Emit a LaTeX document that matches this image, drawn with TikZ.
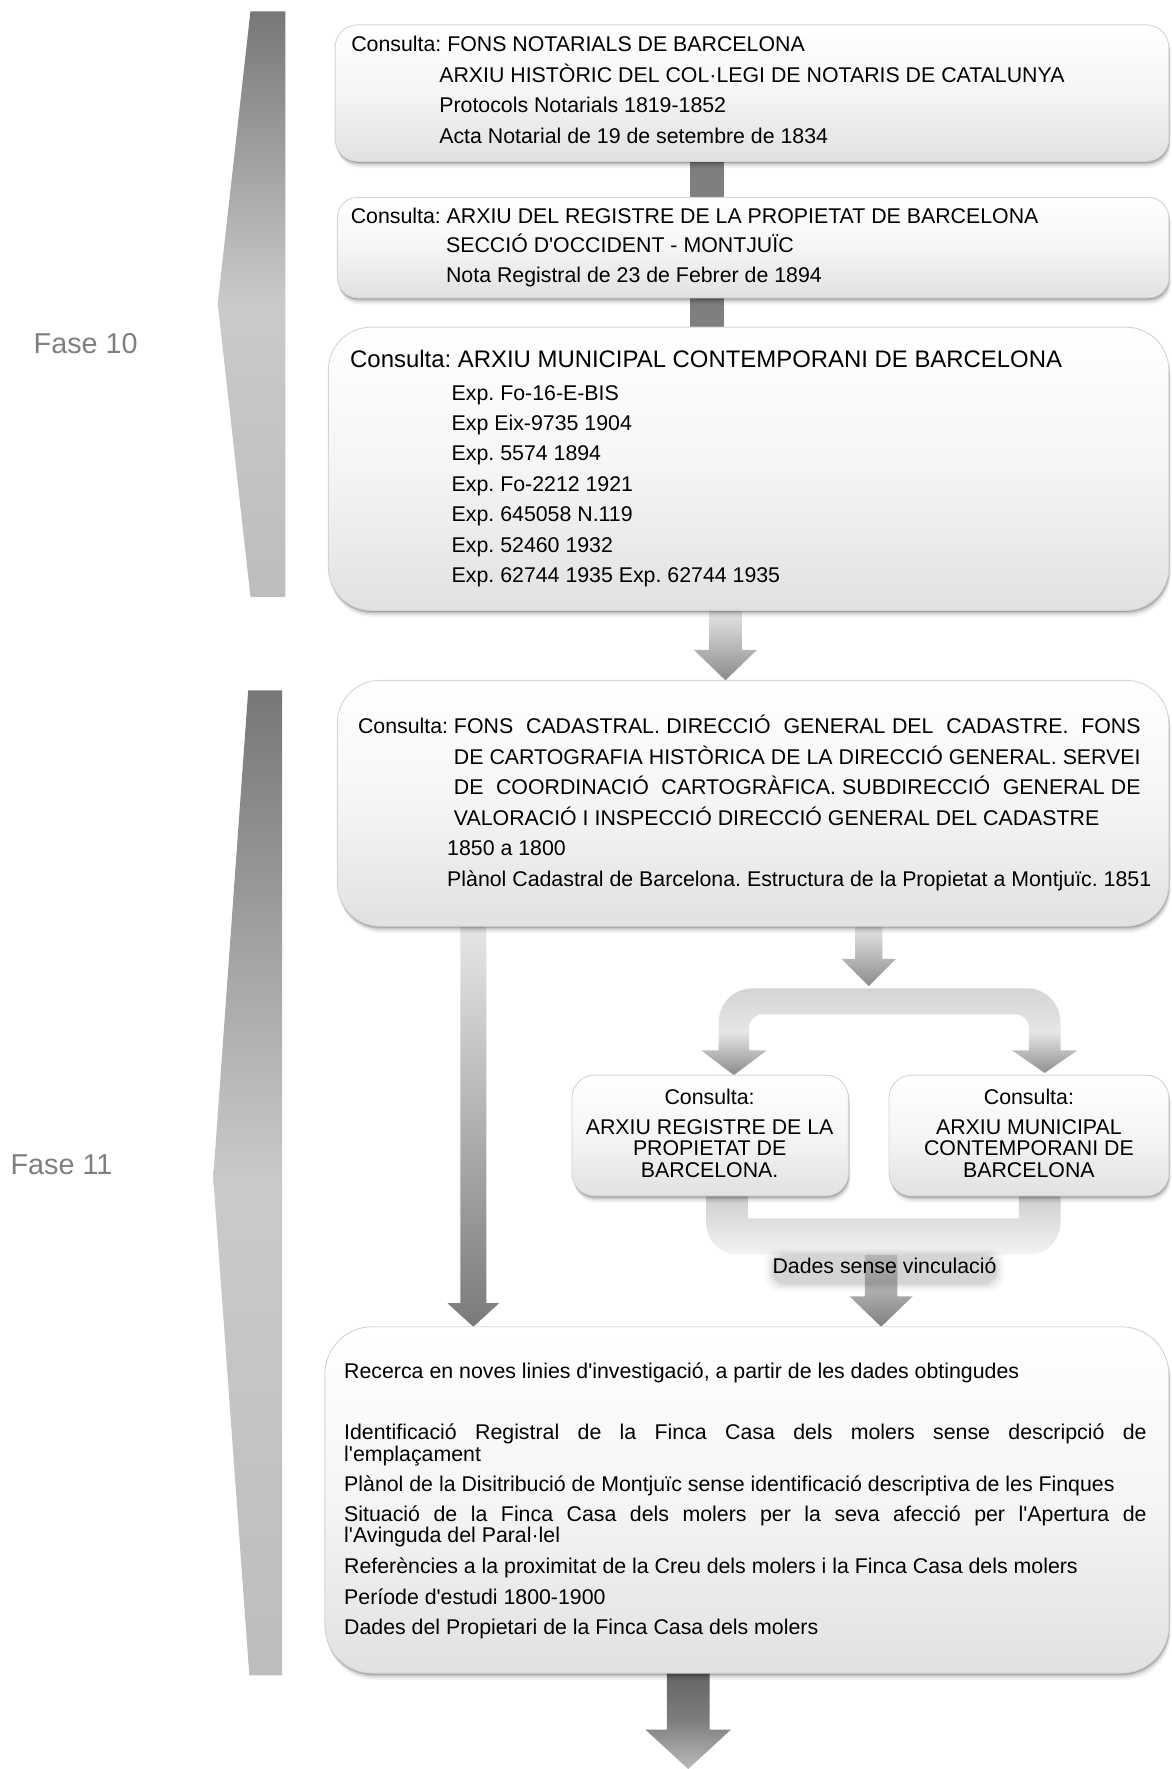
\documentclass[tikz,border=0pt]{standalone}
\usepackage{fontspec}
\setmainfont{Liberation Sans}
\newfontfamily\arialf{Liberation Sans}
\usetikzlibrary{calc}
\pgfdeclarelayer{bg}
\pgfsetlayers{bg,main}
\definecolor{boxbot}{HTML}{E1E1E1}
\definecolor{boxmid}{HTML}{F5F5F5}
\definecolor{boxline}{HTML}{D4D4D4}
\definecolor{bargray}{HTML}{7F7F7F}
\definecolor{fasegray}{HTML}{7F7F7F}
\definecolor{brtop}{HTML}{777777}
\definecolor{brmid}{HTML}{CACACA}
\definecolor{brbot}{HTML}{BDBDBD}
\definecolor{arlight}{HTML}{E6E6E6}
\definecolor{ardark}{HTML}{8C8C8C}
\definecolor{ardarker}{HTML}{7A7A7A}
\newcommand\txf{\arialf\frenchspacing\fontsize{9.45pt}{11pt}\selectfont}
\newcommand\txbig{\arialf\frenchspacing\fontsize{10.6pt}{12.5pt}\selectfont}
\newcommand\txfase{\arialf\frenchspacing\fontsize{12.75pt}{15pt}\selectfont}
\newcommand\jline[2]{\makebox[#1][s]{#2}}
% name, x1, y1, x2, y2, radius
\newcommand\mkbox[6]{%
  \foreach \sd/\so in {6/0.05,4.2/0.08,2.6/0.12,1.3/0.18}{%
    \fill[black,opacity=\so,rounded corners=#6] ({#2+0.3*\sd},{#3+\sd}) rectangle ({#4+0.3*\sd},{#5+\sd});}
  \node[boxst, rounded corners=#6, minimum width={(#4-#2)*0.5pt}, minimum height={(#5-#3)*0.5pt}] (#1) at ({(#2+#4)/2},{(#3+#5)/2}) {};
}
% style, x, from, to, shaft half, head half, head length
\newcommand\blockarrow[7]{%
  \path[#1] let \p1=(#3), \p2=(#4) in
   ({(#2-#5)*0.5pt},\y1) -- ({(#2+#5)*0.5pt},\y1) -- ({(#2+#5)*0.5pt},{\y2+#7*0.5pt})
   -- ({(#2+#6)*0.5pt},{\y2+#7*0.5pt}) -- ({#2*0.5pt},\y2) -- ({(#2-#6)*0.5pt},{\y2+#7*0.5pt})
   -- ({(#2-#5)*0.5pt},{\y2+#7*0.5pt}) -- cycle;}
\newcommand\barconn[4]{%
  \path[#1] let \p1=(#3), \p2=(#4) in ({(#2-15)*0.5pt},\y1) rectangle ({(#2+15)*0.5pt},\y2);}
\begin{document}
\begin{tikzpicture}[x=0.5pt,y=-0.5pt,
  boxst/.style={draw=boxline, line width=0.4pt, top color=white, bottom color=boxbot, middle color=boxmid, inner sep=0pt, outer sep=0pt},
  tl/.style={anchor=base west, inner sep=0pt, font=\txf},
  tc/.style={anchor=base, inner sep=0pt, font=\txf},
  fase/.style={anchor=base west, inner sep=0pt, font=\txfase, text=fasegray},
  barst/.style={fill=bargray},
  arrlight/.style={top color=arlight, bottom color=ardark},
  arrlong/.style={top color=arlight, bottom color=ardarker},
  arrbottom/.style={top color={rgb,255:red,100;green,100;blue,100}, bottom color={rgb,255:red,186;green,186;blue,186}, middle color={rgb,255:red,126;green,126;blue,126}},
  bracket/.style={top color=brtop, bottom color=brbot, middle color=brmid},
 ]
\useasboundingbox (0,0) rectangle (1038,1568);

% phase brackets
\path[bracket] (222,10) -- (253,10) -- (253,529) -- (222,529) -- (193,269) -- cycle;
\path[bracket] (220,612) -- (250,612) -- (250,1485) -- (221,1485) -- (189,1044) -- cycle;
\node[fase] (f10) at (29.5,313) {Fase 10};
\node[fase] (f11) at (9,1041) {Fase 11};

% boxes
\mkbox{b1}{297}{22}{1036}{143}{10pt}
\mkbox{b2}{299}{175}{1036}{264}{9pt}
\mkbox{b3}{291}{290}{1036}{541}{19pt}
\mkbox{b4}{299}{603}{1036}{821}{19pt}
\mkbox{sl}{507}{953}{752}{1060}{10pt}
\mkbox{sr}{788}{953}{1036}{1060}{10pt}
\mkbox{b5}{288}{1176}{1036}{1483}{21pt}

\coordinate (splitin) at (770,874);
\coordinate (mergeout) at (781,1112);
\coordinate (endpt) at (610,1568);

\begin{pgfonlayer}{bg}
\barconn{barst}{627}{b1.south}{b2.north}
\barconn{barst}{627}{b2.south}{b3.north}
\blockarrow{arrlight}{643}{b3.south}{b4.north}{14.5}{28}{27}
\blockarrow{arrlong}{419.5}{b4.south}{b5.north}{11.5}{23}{21}
\blockarrow{arrlight}{770}{b4.south}{splitin}{12}{24}{24}
% split
\path[top color={rgb,255:red,212;green,212;blue,212}, bottom color={rgb,255:red,138;green,138;blue,138}, middle color={rgb,255:red,230;green,230;blue,230}]
  (637,931) -- (637,906) .. controls (637,889.4) and (650.4,876) .. (667,876) -- (910,876)
  .. controls (926.6,876) and (940,889.4) .. (940,906) -- (940,931) -- (955,931) -- (926,951)
  -- (897,931) -- (912,931) -- (912,911) .. controls (912,904.4) and (906.6,899) .. (900,899)
  -- (676,899) .. controls (669.4,899) and (664,904.4) .. (664,911) -- (664,931) -- (679.5,931)
  -- (650.5,953) -- (621.5,931) -- cycle;
% merge
\path[top color={rgb,255:red,200;green,200;blue,200}, bottom color={rgb,255:red,243;green,243;blue,243}]
  (626,1050) -- (626,1084) .. controls (626,1099.5) and (638.5,1112) .. (654,1112) -- (912,1112)
  .. controls (927.5,1112) and (940,1099.5) .. (940,1084) -- (940,1050) -- (903,1050) -- (903,1080)
  -- (663,1080) -- (663,1050) -- cycle;
\blockarrow{top color={rgb,255:red,220;green,220;blue,220}, bottom color={rgb,255:red,128;green,128;blue,128}}{781}{mergeout}{b5.north}{14.5}{28}{27}
\blockarrow{arrbottom}{610}{b5.south}{endpt}{19}{38}{35}
\end{pgfonlayer}

% box 1
\node[tl] (t11) at (311,46) {Consulta: FONS NOTARIALS DE BARCELONA};
\node[tl] (t12) at (389,73) {ARXIU HISTÒRIC DEL COL·LEGI DE NOTARIS DE CATALUNYA};
\node[tl] (t13) at (389,100) {Protocols Notarials 1819-1852};
\node[tl] (t14) at (389,127) {Acta Notarial de 19 de setembre de 1834};
% box 2
\node[tl] (t21) at (310.5,198) {Consulta: ARXIU DEL REGISTRE DE LA PROPIETAT DE BARCELONA};
\node[tl] (t22) at (395,224) {SECCIÓ D'OCCIDENT - MONTJUÏC};
\node[tl] (t23) at (395,250) {Nota Registral de 23 de Febrer de 1894};
% box 3
\node[tl, font=\txbig] (t30) at (310,326) {Consulta: ARXIU MUNICIPAL CONTEMPORANI DE BARCELONA};
\node[tl] (t31) at (400,354.6) {Exp. Fo-16-E-BIS};
\node[tl] (t32) at (400,381.6) {Exp Eix-9735 1904};
\node[tl] (t33) at (400,408.6) {Exp. 5574 1894};
\node[tl] (t34) at (400,435.6) {Exp. Fo-2212 1921};
\node[tl] (t35) at (400,462.6) {Exp. 645058 N.119};
\node[tl] (t36) at (400,489.6) {Exp. 52460 1932};
\node[tl] (t37) at (400,516.6) {Exp. 62744 1935 Exp. 62744 1935};
% box 4
\node[tl] (t40) at (317,650.5) {Consulta:};
\node[tl] (t41) at (402,650.5) {\jline{304.3pt}{FONS \ CADASTRAL. DIRECCIÓ \ GENERAL DEL \ CADASTRE. \ FONS}};
\node[tl] (t42) at (402,677.5) {\jline{304.3pt}{DE CARTOGRAFIA HISTÒRICA DE LA DIRECCIÓ GENERAL. SERVEI}};
\node[tl] (t43) at (402,704.5) {\jline{304.3pt}{DE \ COORDINACIÓ \ CARTOGRÀFICA. SUBDIRECCIÓ \ GENERAL DE}};
\node[tl] (t44) at (402,731.5) {VALORACIÓ I INSPECCIÓ DIRECCIÓ GENERAL DEL CADASTRE};
\node[tl] (t45) at (396,758.5) {1850 a 1800};
\node[tl] (t46) at (396,785.5) {Plànol Cadastral de Barcelona. Estructura de la Propietat a Montjuïc. 1851};
% small boxes
\node[tc] (sl1) at (629,979) {Consulta:};
\node[tc] (sl2) at (629,1005.6) {ARXIU REGISTRE DE LA};
\node[tc] (sl3) at (629,1024.6) {PROPIETAT DE};
\node[tc] (sl4) at (629,1043.6) {BARCELONA.};
\node[tc] (sr1) at (912,979) {Consulta:};
\node[tc] (sr2) at (912,1005.6) {ARXIU MUNICIPAL};
\node[tc] (sr3) at (912,1024.6) {CONTEMPORANI DE};
\node[tc] (sr4) at (912,1043.6) {BARCELONA};
% label with a soft glow behind it
\foreach \gx/\gy/\go in {8/9/0.03,5/7/0.04,3/5/0.05,1.5/3.5/0.06}{
  \fill[black,opacity=\go,rounded corners=6pt] ({686-\gx},{1114-\gy+2}) rectangle ({882+\gx},{1133+\gy+2});}
\node[tc] (lab) at (784,1129) {Dades sense vinculació};
% box 5
\node[tl] (t51) at (304.7,1222) {Recerca en noves linies d'investigació, a partir de les dades obtingudes};
\node[tl] (t52) at (304.7,1276) {\jline{355.6pt}{Identificació Registral de la Finca Casa dels molers sense descripció de}};
\node[tl] (t53) at (304.7,1295) {l'emplaçament};
\node[tl] (t54) at (304.7,1322) {Plànol de la Disitribució de Montjuïc sense identificació descriptiva de les Finques};
\node[tl] (t55) at (304.7,1348.5) {\jline{355.6pt}{Situació de la Finca Casa dels molers per la seva afecció per l'Apertura de}};
\node[tl] (t56) at (304.7,1367.5) {l'Avinguda del Paral·lel};
\node[tl] (t57) at (304.7,1395) {Referències a la proximitat de la Creu dels molers i la Finca Casa dels molers};
\node[tl] (t58) at (304.7,1422) {Període d'estudi 1800-1900};
\node[tl] (t59) at (304.7,1449) {Dades del Propietari de la Finca Casa dels molers};
\end{tikzpicture}
\end{document}
